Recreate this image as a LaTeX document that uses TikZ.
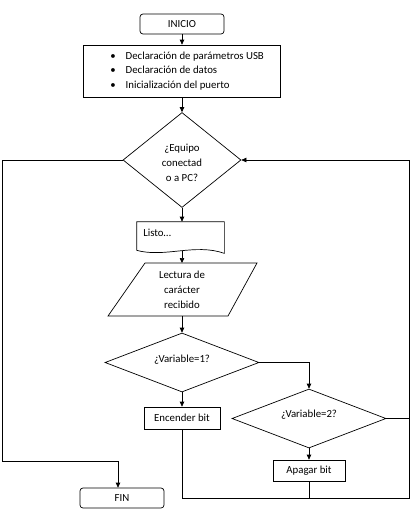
\documentclass[tikz,border=0pt]{standalone}
\usepackage{fontspec}
\setmainfont{Carlito}
\usetikzlibrary{shapes.geometric,arrows.meta}
\begin{document}
\begin{tikzpicture}[x=1pt,y=-1pt, line width=0.7pt,
  font=\fontsize{10.8}{14.8}\selectfont,
  arr/.style={-{Triangle[length=5pt,width=4.5pt]}},
  term/.style={draw, rounded corners=3pt, minimum width=84pt, minimum height=20pt, inner sep=0pt},
  proc/.style={draw, inner sep=0pt},
  dec/.style={draw, diamond, inner sep=0pt},
  txt/.style={inner sep=0pt, align=center}]
\useasboundingbox (0,0) rectangle (411,514);
% nodes
\node[term] (ini) at (182,24) {INICIO};
\node[proc, minimum width=197pt, minimum height=52pt] (init) at (181.5,71) {};
\node[txt, anchor=west] (inittxt) at (110,71) {%
  \begin{tabular}{@{}l@{\hspace{10pt}}l@{}}
  \textbullet & Declaración de parámetros USB\\[-0.3pt]
  \textbullet & Declaración de datos\\[-0.3pt]
  \textbullet & Inicialización del puerto
  \end{tabular}};
\node[dec, minimum width=118pt, minimum height=95pt] (d1) at (182,160) {};
\node[txt] (d1txt) at (182,163) {¿Equipo\\conectad\\o a PC?};
\node[minimum width=87pt, minimum height=28pt, inner sep=0pt] (doc) at (180.5,236) {};
\node[txt, anchor=west] (listo) at (143,233) {Listo…};
\node[txt] (rd) at (182,289.5) {Lectura de\\carácter\\recibido};
\coordinate (rdtop) at (182,263);
\coordinate (rdbot) at (182,316);
\node[dec, minimum width=154pt, minimum height=59pt] (d2) at (182,362.5) {};
\node[txt] (d2txt) at (182,360) {¿Variable=1?};
\node[dec, minimum width=154pt, minimum height=59pt] (d3) at (309,418.5) {};
\node[txt] (d3txt) at (309,415) {¿Variable=2?};
\node[proc, minimum width=76pt, minimum height=22pt] (enc) at (182,418) {Encender bit};
\node[proc, minimum width=72pt, minimum height=21pt] (apa) at (309,470.5) {Apagar bit};
\node[term] (fin) at (122,498) {FIN};
\coordinate (L1) at (2,160);
\coordinate (L2) at (2,461);
\coordinate (L3) at (118,461);
\coordinate (R1) at (409.5,160);
\coordinate (R2) at (409.5,498);
\coordinate (B1) at (182,498);
% shapes drawn directly
\draw (doc.south west) -- (doc.north west) -- (doc.north east) -- ([yshift=-3pt]doc.south east)
  .. controls (195,243) and (165,258) .. (doc.south west);
\draw (145,263) -- (257,263) -- (228,316) -- (108,316) -- cycle;
% connectors
\draw[arr] (ini.south) -- (init.north -| ini.south);
\draw[arr] (init.south -| ini.south) -- (d1.north);
\draw[arr] (d1.south) -- (d1.south |- doc.north);
\draw[arr] ([yshift=-1pt]d1.south |- doc.south) -- (rdtop);
\draw[arr] (rdbot) -- (d2.north);
\draw[arr] (d2.east) -| (d3.north);
\draw[arr] (d2.south) -- (enc.north);
\draw[arr] (d3.south) -- (apa.north);
\draw[arr] (d1.west) -- (L1) -- (L2) -- (L3) -- (L3 |- fin.north);
\draw[arr] (enc.south) -- (B1) -- (R2) -- (R1) -- (d1.east);
\draw (apa.south) -- (apa.south |- B1);
\draw (d3.east) -- (d3.east -| R1);
\end{tikzpicture}
\end{document}
